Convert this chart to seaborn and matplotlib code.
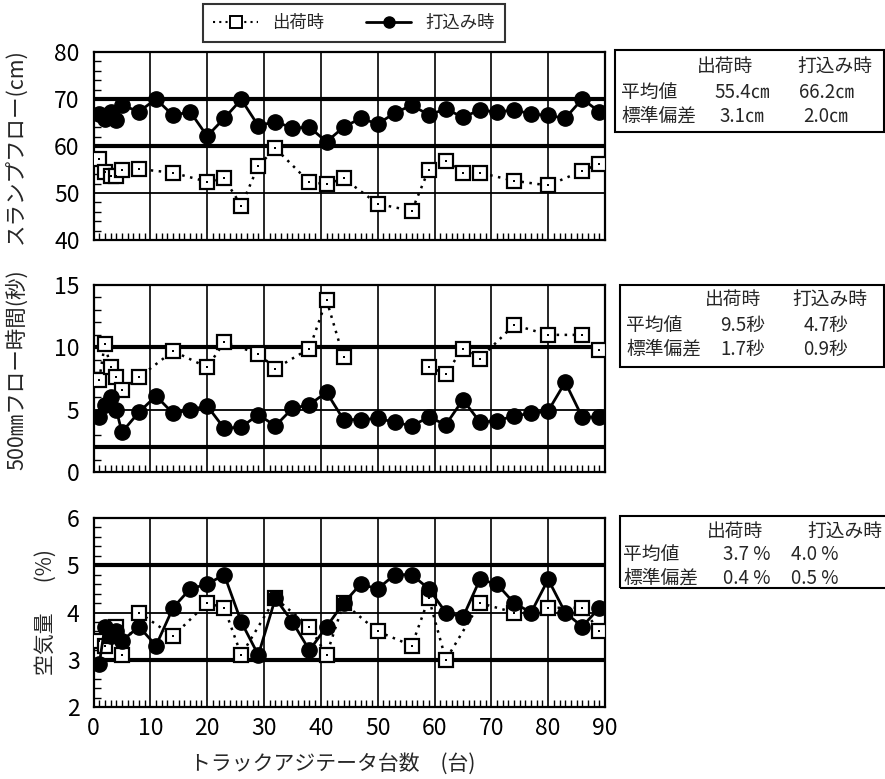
import numpy as np
import pandas as pd
import matplotlib.pyplot as plt
import seaborn as sns
from matplotlib.lines import Line2D
from matplotlib.patches import Rectangle
from matplotlib.ticker import MultipleLocator

sns.set_style('white')
plt.rcParams['font.family'] = ['Noto Sans CJK JP', 'DejaVu Sans']

# ---- data ----
# スランプフロー (cm)
slump_ship_x = [1, 2, 3, 4, 5, 8, 14, 20, 23, 26, 29, 32, 38, 41, 44, 50, 56, 59, 62, 65, 68, 74, 80, 86, 89]
slump_ship_y = [57.2, 54.5, 53.7, 53.6, 55.0, 55.1, 54.3, 52.4, 53.1, 47.3, 55.8, 59.5, 52.3, 51.9, 53.1,
                47.7, 46.2, 55.0, 56.9, 54.3, 54.3, 52.6, 51.6, 54.7, 56.2]
slump_pour_x = [1, 2, 3, 4, 5, 8, 11, 14, 17, 20, 23, 26, 29, 32, 35, 38, 41, 44, 47, 50, 53, 56, 59,
                62, 65, 68, 71, 74, 77, 80, 83, 86, 89]
slump_pour_y = [66.8, 65.7, 67.2, 65.6, 68.7, 67.3, 70.0, 66.5, 67.3, 62.1, 65.9, 69.9, 64.3, 65.2, 63.8,
                64.0, 60.9, 64.0, 65.9, 64.7, 67.0, 68.7, 66.6, 67.9, 66.1, 67.7, 67.2, 67.7, 66.8, 66.5,
                65.9, 70.0, 67.3]

# 500mmフロー時間 (秒)
flow_ship_x = [1, 2, 3, 4, 5, 8, 14, 20, 23, 29, 32, 38, 41, 44, 59, 62, 65, 68, 74, 80, 86, 89]
flow_ship_y = [7.4, 10.3, 8.4, 7.6, 6.6, 7.6, 9.7, 8.4, 10.4, 9.5, 8.3, 9.9, 13.8, 9.2, 8.4, 7.9, 9.9,
               9.1, 11.8, 11.0, 11.0, 9.8]
flow_ship_breaks = [14]  # dotted line interrupted between x=44 and x=59
flow_pour_x = slump_pour_x
flow_pour_y = [4.4, 5.4, 6.0, 5.0, 3.2, 4.8, 6.1, 4.7, 5.0, 5.3, 3.5, 3.6, 4.6, 3.7, 5.1, 5.4, 6.4, 4.2,
               4.2, 4.3, 4.0, 3.7, 4.4, 3.8, 5.8, 4.0, 4.1, 4.5, 4.7, 4.9, 7.2, 4.4, 4.4]

# 空気量 (%)
air_ship_x = [1, 2, 3, 4, 5, 8, 14, 20, 23, 26, 32, 38, 41, 44, 50, 56, 59, 62, 68, 74, 80, 86, 89]
air_ship_y = [3.4, 3.3, 3.5, 3.7, 3.1, 4.0, 3.5, 4.2, 4.1, 3.1, 4.3, 3.7, 3.1, 4.2, 3.6, 3.3, 4.3, 3.0,
              4.2, 4.0, 4.1, 4.1, 3.6]
air_pour_x = slump_pour_x
air_pour_y = [2.9, 3.7, 3.5, 3.6, 3.4, 3.7, 3.3, 4.1, 4.5, 4.6, 4.8, 3.8, 3.1, 4.3, 3.8, 3.2, 3.7, 4.2,
              4.6, 4.5, 4.8, 4.8, 4.5, 4.0, 3.9, 4.7, 4.6, 4.2, 4.0, 4.7, 4.0, 3.7, 4.1]

stat_header = ['出荷時', '打込み時']
stat_rows = ['平均値', '標準偏差']
slump_stats = [['55.4㎝', '66.2㎝'], ['3.1㎝', '2.0㎝']]
flow_stats = [['9.5秒', '4.7秒'], ['1.7秒', '0.9秒']]
air_stats = [['3.7 %', '4.0 %'], ['0.4 %', '0.5 %']]

W, H = 885, 779
fig = plt.figure(figsize=(W / 100, H / 100), dpi=100)


def fx(px):
    return px / W


def fy(py):
    return 1 - py / H


def add_axes(top, bottom):
    return fig.add_axes([fx(93.5), fy(bottom), fx(605 - 93.5), (bottom - top) / H])


ax1 = add_axes(52, 240)
ax2 = add_axes(285, 472)
ax3 = add_axes(518, 707)


def draw_panel(ax, ship_x, ship_y, pour_x, pour_y, ship_breaks=()):
    seg = np.searchsorted(ship_breaks, np.arange(len(ship_x)), side='right')
    ship = pd.DataFrame({'x': ship_x, 'y': ship_y, 'seg': seg})
    pour = pd.DataFrame({'x': pour_x, 'y': pour_y})
    sns.lineplot(data=ship, x='x', y='y', units='seg', estimator=None, ax=ax,
                 color='black', lw=1.8, linestyle=(0, (1, 2.2)), marker='s', markersize=10,
                 markerfacecolor='white', markeredgecolor='black', markeredgewidth=1.6, zorder=3)
    sns.scatterplot(data=ship, x='x', y='y', ax=ax, marker='s', s=3, color='black',
                    linewidth=0, zorder=4)
    sns.lineplot(data=pour, x='x', y='y', estimator=None, ax=ax, color='black', lw=2,
                 marker='o', markersize=11, markerfacecolor='black', markeredgecolor='black',
                 markeredgewidth=1, zorder=5)


draw_panel(ax1, slump_ship_x, slump_ship_y, slump_pour_x, slump_pour_y)
draw_panel(ax2, flow_ship_x, flow_ship_y, flow_pour_x, flow_pour_y, flow_ship_breaks)
draw_panel(ax3, air_ship_x, air_ship_y, air_pour_x, air_pour_y)

panels = [
    (ax1, (40, 80), 10, 2, [60, 70], [50]),
    (ax2, (0, 15), 5, 1, [2, 10], [5]),
    (ax3, (2, 6), 1, 0.2, [3, 5], [4]),
]
for ax, ylim, ymaj, ymin, thick, thin in panels:
    ax.set_xlim(0, 90)
    ax.set_ylim(*ylim)
    ax.xaxis.set_major_locator(MultipleLocator(10))
    ax.xaxis.set_minor_locator(MultipleLocator(1))
    ax.yaxis.set_major_locator(MultipleLocator(ymaj))
    ax.yaxis.set_minor_locator(MultipleLocator(ymin))
    ax.tick_params(which='major', length=0, labelsize=16.5, colors='black')
    ax.tick_params(axis='y', which='major', pad=10)
    ax.tick_params(axis='x', which='major', pad=7)
    ax.tick_params(which='minor', direction='in', length=5, width=1, color='black',
                   bottom=True, left=True)
    ax.xaxis.grid(True, which='major', color='black', lw=1.2)
    for v in thick:
        ax.axhline(v, color='black', lw=3, zorder=2)
    for v in thin:
        ax.axhline(v, color='black', lw=1.3, zorder=2)
    for s in ax.spines.values():
        s.set_color('black')
        s.set_linewidth(1.6)
    ax.set_xlabel('')
    ax.set_ylabel('')
ax1.tick_params(axis='x', labelbottom=False)
ax2.tick_params(axis='x', labelbottom=False)

fig.text(fx(333), fy(764), 'トラックアジテータ台数　(台)', ha='center', va='center', fontsize=15)
fig.text(fx(17), fy(146), 'スランプフロー(cm)', rotation=90, ha='center', va='center', fontsize=15.5)
fig.text(fx(17), fy(370), '500㎜フロー時間(秒)', rotation=90, ha='center', va='center', fontsize=15.5)
fig.text(fx(46), fy(612), '空気量　  (%)', rotation=90, ha='center', va='center', fontsize=15)


def stat_box(left, top, right, bottom, rows_y, col_x, label_x, stats):
    fig.patches.append(Rectangle((fx(left), fy(bottom)), fx(right - left), (bottom - top) / H,
                                 transform=fig.transFigure, fill=False, ec='black', lw=1.5))
    for cx, h in zip(col_x[0], stat_header):
        fig.text(fx(cx), fy(rows_y[0]), h, ha='center', va='center', fontsize=13.5)
    for i, name in enumerate(stat_rows):
        fig.text(fx(label_x), fy(rows_y[i + 1]), name, ha='left', va='center', fontsize=13.5)
        for cx, val in zip(col_x[1], stats[i]):
            fig.text(fx(cx), fy(rows_y[i + 1]), val, ha='center', va='center', fontsize=13.5)


stat_box(615, 50, 884, 132, [66, 92, 116], [(725, 835), (742, 826)], 621, slump_stats)
stat_box(620, 285, 884, 367, [299, 325, 349], [(733, 830), (743, 826)], 626, flow_stats)
stat_box(620, 516, 890, 588, [531, 554, 578], [(735, 845), (747, 815)], 623, air_stats)

handles = [
    Line2D([], [], color='black', lw=1.5, linestyle=(0, (1, 2)), marker='s', markersize=8,
           markerfacecolor='white', markeredgecolor='black', markeredgewidth=1.4),
    Line2D([], [], color='black', lw=2, marker='o', markersize=8, markerfacecolor='black'),
]
leg = fig.legend(handles=handles, labels=['出荷時', '打込み時'], ncol=2, loc='center',
                 bbox_to_anchor=(fx(354), fy(23)), frameon=True, fancybox=False,
                 edgecolor='black', fontsize=12.5, handlelength=2.6, columnspacing=2.4,
                 borderpad=0.6, handletextpad=0.8)
leg.get_frame().set_linewidth(1.5)

fig.savefig('out.png', dpi=100)
